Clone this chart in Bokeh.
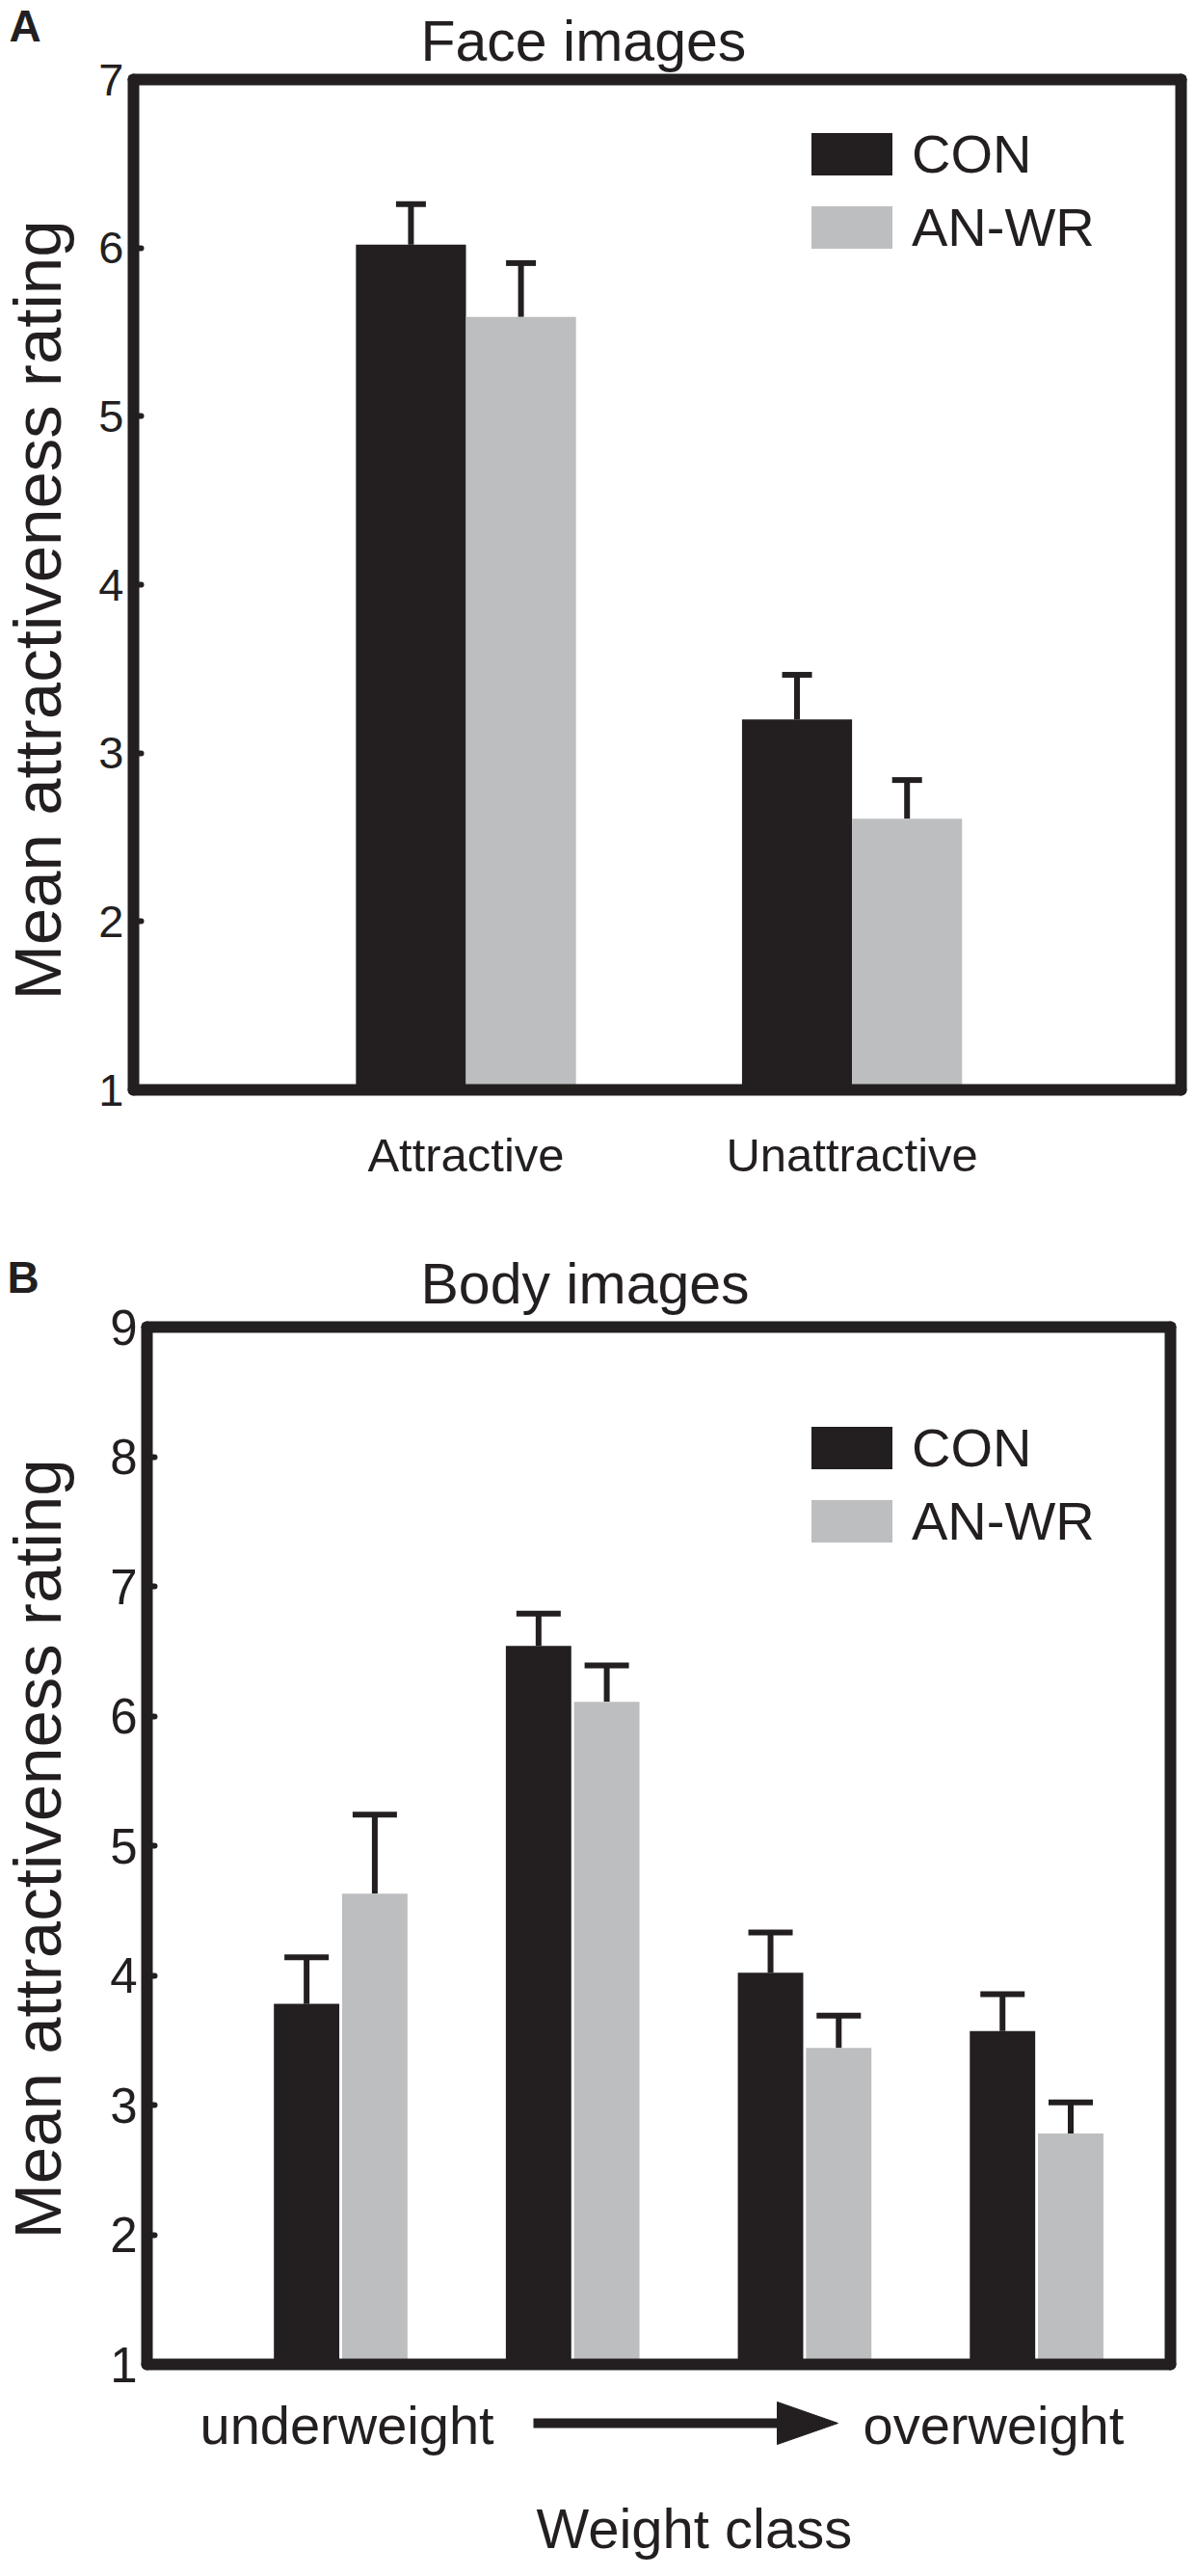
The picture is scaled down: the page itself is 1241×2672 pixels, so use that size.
from math import pi
import numpy as np
from bokeh.plotting import figure
from bokeh.models import (ColumnDataSource, Range1d, FixedTicker, LinearAxis,
                          Legend, LegendItem, Whisker, TeeHead)
from bokeh.layouts import column, row
from bokeh.core.properties import value
from bokeh.embed import file_html
from bokeh.resources import INLINE

# ---------------- data ----------------
face_categories = ["Attractive", "Unattractive"]
face_con = [6.02, 3.20]
face_con_err = [0.24, 0.265]
face_anwr = [5.59, 2.61]
face_anwr_err = [0.32, 0.23]
face_yticks = [1, 2, 3, 4, 5, 6, 7]

body_classes = ["underweight", "lower normal", "upper normal", "overweight"]
body_con = [3.78, 6.54, 4.02, 3.57]
body_con_err = [0.36, 0.25, 0.31, 0.285]
body_anwr = [4.63, 6.11, 3.44, 2.78]
body_anwr_err = [0.61, 0.28, 0.25, 0.24]
body_yticks = [1, 2, 3, 4, 5, 6, 7, 8, 9]

series_names = ["CON", "AN-WR"]

# ---------------- styles ----------------
DARK = "#231F20"
GRAY = "#BCBEC0"
ARIAL = "Liberation Sans"
FRAME_W = 12
STRIP_W = 95
TOTAL_W = 1233
PLOT_W = TOTAL_W - STRIP_W
MID = 0.3465  # baseline-to-middle distance (em) for Liberation Sans


def no_align(f):
    try:
        f.frame_align = False
    except AttributeError:
        pass


def blank(w, h):
    f = figure(width=w, height=h, x_range=Range1d(0, w), y_range=Range1d(0, h),
               x_axis_type=None, y_axis_type=None, title=None,
               output_backend="svg", toolbar_location=None, min_border=0)
    f.grid.visible = False
    f.outline_line_color = None
    f.background_fill_color = "white"
    f.border_fill_color = "white"
    no_align(f)
    return f


def put_text(f, x, y_base, s, px, style="normal"):
    # horizontal text; y_base is the wanted baseline (y up)
    f.text(x=[x], y=[y_base + MID * px], text=[s], text_font=value(ARIAL),
           text_font_size=value(f"{px}px"), text_font_style=value(style),
           text_color=DARK, text_align="left", text_baseline="middle",
           text_line_height=1.0)


def put_vtext(f, x_base, y_center, s, px):
    # text rotated 90 degrees counter-clockwise; x_base is the wanted baseline
    f.text(x=[x_base - MID * px], y=[y_center], text=[s], text_font=value(ARIAL),
           text_font_size=value(f"{px}px"), text_color=DARK, angle=pi / 2,
           text_align="center", text_baseline="middle", text_line_height=1.0)


def frame_axis(p, side):
    ax = LinearAxis(ticker=FixedTicker(ticks=[]), axis_line_width=FRAME_W,
                    axis_line_color=DARK, axis_line_cap="round",
                    major_tick_line_color=None, minor_tick_line_color=None,
                    major_tick_in=0, major_tick_out=0, minor_tick_in=0, minor_tick_out=0,
                    major_label_text_font_size="0px", major_label_standoff=0)
    p.add_layout(ax, side)


def make_panel(height, borders, x_range, yticks, tick_size, title, title_offset, title_standoff):
    left, right, top, bottom = borders
    p = figure(width=PLOT_W, height=height, x_range=x_range,
               y_range=Range1d(yticks[0], yticks[-1]), title=title,
               output_backend="svg", toolbar_location=None,
               min_border_left=left, min_border_right=right,
               min_border_top=top, min_border_bottom=bottom)
    no_align(p)
    p.title.text_font = ARIAL
    p.title.text_font_size = "59px"
    p.title.text_font_style = "normal"
    p.title.text_color = DARK
    p.title.align = "left"
    p.title.offset = title_offset
    p.title.standoff = title_standoff
    p.xgrid.visible = False
    p.ygrid.visible = False
    p.outline_line_color = None
    p.background_fill_color = "white"
    p.border_fill_color = "white"

    ya = p.left[0]
    ya.ticker = FixedTicker(ticks=yticks)
    ya.axis_line_width = FRAME_W
    ya.axis_line_color = DARK
    ya.axis_line_cap = "round"
    ya.major_tick_in = 8
    ya.major_tick_out = 0
    ya.major_tick_line_width = 6
    ya.major_tick_line_color = DARK
    ya.major_tick_line_cap = "round"
    ya.minor_tick_line_color = None
    ya.major_label_text_font = ARIAL
    ya.major_label_text_font_size = tick_size
    ya.major_label_text_color = DARK
    ya.major_label_standoff = 10

    xa = p.below[0]
    xa.axis_line_width = FRAME_W
    xa.axis_line_color = DARK
    xa.axis_line_cap = "round"
    xa.major_tick_line_color = None
    xa.minor_tick_line_color = None
    xa.major_tick_in = 0
    xa.major_tick_out = 0
    xa.minor_tick_in = 0
    xa.minor_tick_out = 0

    frame_axis(p, "right")
    frame_axis(p, "above")
    return p


def add_bars(p, con, con_err, anwr, anwr_err, offset, bar_w, cap, legend_xy):
    n = len(con)
    xs = np.arange(1, n + 1, dtype=float)
    src = ColumnDataSource(dict(
        x_con=xs - offset, x_an=xs + offset,
        con=con, an=anwr,
        con_hi=np.array(con) + np.array(con_err),
        an_hi=np.array(anwr) + np.array(anwr_err),
    ))
    r_con = p.vbar(x="x_con", top="con", bottom=1, width=bar_w, source=src,
                   fill_color=DARK, line_color=None)
    r_an = p.vbar(x="x_an", top="an", bottom=1, width=bar_w, source=src,
                  fill_color=GRAY, line_color=None)
    for base, lo, hi in (("x_con", "con", "con_hi"), ("x_an", "an", "an_hi")):
        w = Whisker(source=src, base=base, lower=lo, upper=hi, dimension="height",
                    line_color=DARK, line_width=6,
                    upper_head=TeeHead(size=cap, line_width=6, line_color=DARK),
                    lower_head=None)
        p.add_layout(w)
    legend = Legend(items=[LegendItem(label=series_names[0], renderers=[r_con]),
                           LegendItem(label=series_names[1], renderers=[r_an])],
                    location=legend_xy, orientation="vertical",
                    glyph_width=105, glyph_height=55, label_height=55,
                    label_standoff=10, spacing=11, padding=0, margin=0,
                    border_line_color=None, background_fill_alpha=0,
                    label_text_font=ARIAL, label_text_font_size="56px",
                    label_text_color=DARK)
    p.add_layout(legend)


# ---------------- panel A: faces ----------------
strip_a = blank(STRIP_W, 1272)
put_text(strip_a, 9, 1230, "A", 46, style="bold")
put_vtext(strip_a, 63, 639.5, "Mean attractiveness rating", 69)

pa = make_panel(1272, (43, 8, 81, 142), Range1d(0.1388, 2.8522),
                face_yticks, "47px", "Face images", 298, 14)
xa = pa.below[0]
xa.ticker = FixedTicker(ticks=[1, 2])
xa.major_label_overrides = {1: face_categories[0], 2: face_categories[1]}
xa.major_label_text_font = ARIAL
xa.major_label_text_font_size = "49px"
xa.major_label_text_color = DARK
xa.major_label_standoff = 40
add_bars(pa, face_con, face_con_err, face_anwr, face_anwr_err,
         0.1425, 0.285, 31, (693, 862))

# ---------------- panel B: bodies ----------------
strip_b = blank(STRIP_W, 1210)
put_text(strip_b, 7, 1142, "B", 46, style="bold")
put_vtext(strip_b, 63, 564.5, "Mean attractiveness rating", 69)

pb = make_panel(1210, (57, 19, 104, 30), Range1d(0.1649, 4.577),
                body_yticks, "51px", "Body images", 284, 24)
pb.below[0].ticker = FixedTicker(ticks=[])
pb.below[0].major_label_text_font_size = "0px"
pb.below[0].major_label_standoff = 0
add_bars(pb, body_con, body_con_err, body_anwr, body_anwr_err,
         0.147, 0.282, 46, (679, 842))

foot_b = blank(TOTAL_W, 174)
put_text(foot_b, 207, 122, "underweight", 56)
put_text(foot_b, 895, 122, "overweight", 56)
put_text(foot_b, 556, 14, "Weight class", 58)
# arrow from "underweight" towards "overweight"
arrow_y, arrow_x0, arrow_base, arrow_tip, arrow_half = 143, 553, 806, 869, 22
foot_b.segment(x0=[arrow_x0], y0=[arrow_y], x1=[arrow_base + 4], y1=[arrow_y],
               line_width=10, line_color=DARK)
foot_b.patch(x=[arrow_base, arrow_tip, arrow_base],
             y=[arrow_y + arrow_half, arrow_y, arrow_y - arrow_half],
             fill_color=DARK, line_color=DARK, line_width=1)

layout = column(row(strip_a, pa), row(strip_b, pb), foot_b)
open("out.html", "w").write(file_html(layout, INLINE))
